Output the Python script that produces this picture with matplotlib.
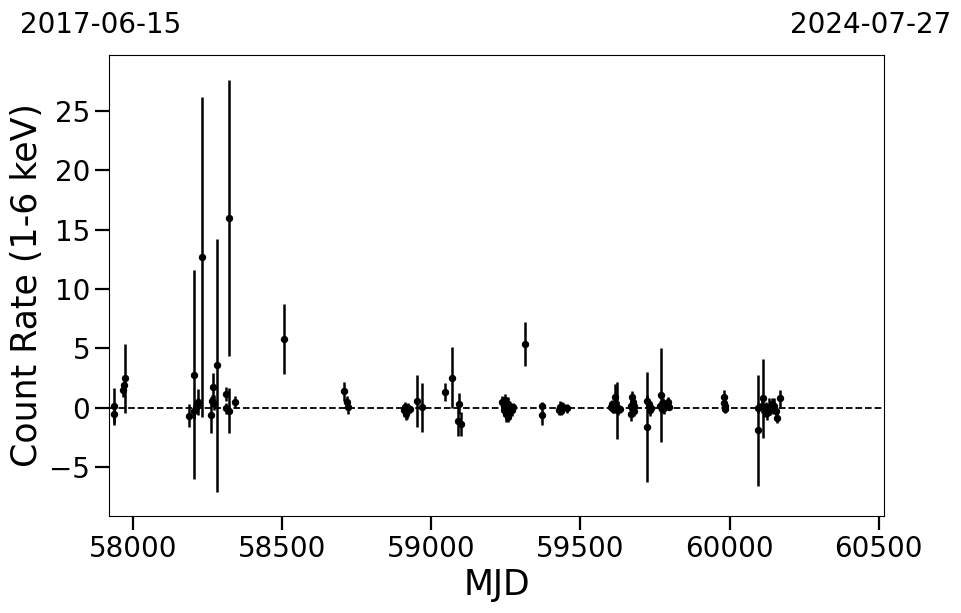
import numpy as np
import matplotlib
matplotlib.use('Agg')
import matplotlib.pyplot as plt

# --- Light curve data (MJD, count rate, 1-sigma error) ---
mjd = [57936, 57935, 57966, 57968, 57974,
       58187, 58204, 58205, 58217, 58218, 58232, 58262, 58263, 58269, 58270,
       58281, 58312, 58313, 58320, 58321, 58343,
       58506, 58708, 58718, 58719,
       58908, 58912, 58915, 58918, 58922, 58928, 58952, 58970,
       59047, 59070, 59090, 59094, 59098,
       59238, 59242, 59245, 59248, 59250, 59253, 59256, 59258, 59262, 59265,
       59270, 59274, 59314, 59370, 59371, 59428, 59431, 59434, 59438, 59456,
       59602, 59606, 59610, 59614, 59617, 59620, 59623, 59626, 59632,
       59668, 59670, 59672, 59674, 59676, 59678, 59680,
       59722, 59724, 59730, 59733, 59736,
       59768, 59770, 59773, 59777, 59781, 59786, 59792, 59796,
       59980, 59982, 59984, 59986,
       60094, 60096, 60108, 60113, 60118, 60122, 60127, 60132, 60137, 60142,
       60146, 60150, 60155, 60160, 60169]
rate = [0.2, -0.5, 1.5, 1.9, 2.5,
        -0.65, 2.8, -0.3, 0.5, 0.3, 12.7, -0.6, 0.6, 1.75, 0.45,
        3.6, 1.2, -0.05, 16.0, -0.25, 0.5,
        5.8, 1.4, 0.5, 0.1,
        -0.2, 0.1, -0.5, -0.3, 0.0, -0.1, 0.6, 0.05,
        1.35, 2.55, -1.1, 0.35, -1.35,
        0.5, 0.2, -0.2, 0.7, -0.5, 0.1, -0.8, 0.3, -0.3, 0.0,
        -0.2, 0.1, 5.35, 0.2, -0.6, -0.2, 0.1, -0.3, 0.2, -0.05,
        0.1, 0.3, -0.1, 0.05, 0.9, 0.2, -0.2, 0.0, -0.1,
        0.2, -0.5, 0.9, 0.0, 0.5, -0.3, 0.2,
        0.6, -1.6, 0.3, -0.2, 0.0,
        0.2, 1.05, -0.1, 0.4, 0.0, 0.2, 0.5, 0.1,
        0.9, 0.4, -0.1, 0.2,
        -1.9, 0.0, 0.2, 0.8, -0.3, 0.1, -0.4, 0.1, -0.2, 0.3,
        -0.1, 0.2, -0.3, -0.85, 0.8]
err = [1.5, 0.9, 0.6, 0.4, 2.9,
       0.95, 8.8, 0.6, 1.1, 0.5, 13.5, 1.5, 0.5, 1.2, 0.6,
       10.65, 0.6, 0.5, 11.6, 1.9, 0.5,
       2.95, 0.8, 0.5, 0.6,
       0.5, 0.4, 0.5, 0.6, 0.4, 0.3, 2.2, 2.05,
       0.75, 2.6, 1.3, 0.9, 1.0,
       0.5, 0.6, 0.5, 0.5, 0.7, 0.4, 0.4, 0.6, 0.5, 0.4,
       0.5, 0.3, 1.85, 0.3, 0.8, 0.4, 0.5, 0.3, 0.3, 0.4,
       0.3, 0.4, 0.3, 0.5, 1.1, 0.4, 2.4, 0.6, 0.3,
       0.5, 0.6, 0.5, 0.4, 0.7, 0.4, 0.3,
       0.5, 4.6, 0.4, 0.5, 0.3,
       0.4, 3.95, 0.3, 0.4, 0.5, 0.3, 0.4, 0.3,
       0.6, 0.5, 0.3, 0.4,
       4.7, 0.4, 0.6, 3.3, 0.5, 0.4, 0.6, 0.7, 0.4, 0.5,
       0.4, 0.6, 0.5, 0.45, 0.7]

mjd_start, mjd_end = 57919, 60518
date_start, date_end = '2017-06-15', '2024-07-27'
y_ticks = [-5, 0, 5, 10, 15, 20, 25]
x_ticks = [58000, 58500, 59000, 59500, 60000, 60500]

# --- Figure ---
fig = plt.figure(figsize=(9.62, 6.13), dpi=100)
ax = fig.add_axes([0.1133, 0.1582, 0.8057, 0.7521])

ax.errorbar(mjd, rate, yerr=err, fmt='o', color='black', ms=4.3,
            elinewidth=1.8, capsize=0)
ax.axhline(0, color='black', linestyle='--', linewidth=1.3)

ax.set_xlim(mjd_start, mjd_end)
ax.set_ylim(-9.1, 29.7)
ax.set_xticks(x_ticks)
ax.set_yticks(y_ticks)
ax.tick_params(labelsize=20, length=10, width=1.6)
ax.set_xlabel('MJD', fontsize=25)
ax.set_ylabel('Count Rate (1-6 keV)', fontsize=25)

fig.text(20 / 962, 1 - 33 / 613, date_start, fontsize=20, ha='left', va='baseline')
fig.text(951 / 962, 1 - 33 / 613, date_end, fontsize=20, ha='right', va='baseline')

plt.savefig('out.png', dpi=100)
plt.close()
